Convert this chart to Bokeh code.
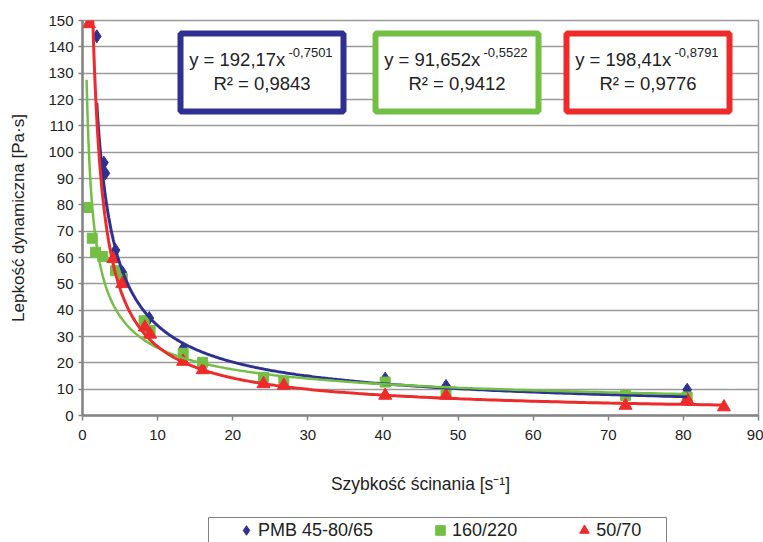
import numpy as np
from bokeh.plotting import figure
from bokeh.layouts import column
from bokeh.models import (Range1d, Label, BoxAnnotation, Legend, LegendItem,
                          FixedTicker)
from bokeh.embed import file_html
from bokeh.resources import INLINE

# ---------------- data ----------------
pmb_x = [1.9, 2.85, 3.05, 4.4, 5.3, 8.9, 13.4, 40.3, 48.4, 80.5]
pmb_y = [144, 96, 92, 62.8, 54.4, 37, 25.5, 14, 11.2, 9.8]

b160_x = [0.55, 1.3, 1.75, 2.7, 4.4, 5.3, 8.2, 9.0, 13.4, 16.0, 24.1, 26.8, 40.3, 48.4, 72.3, 80.5]
b160_y = [79, 67.3, 62, 60.4, 55, 52, 36, 32.3, 23.6, 20.2, 14.5, 12.8, 12.7, 8.9, 7.6, 7.0]

b50_x = [0.85, 4.1, 5.3, 8.3, 9.0, 13.4, 16.0, 24.1, 26.8, 40.3, 48.4, 72.3, 80.5, 85.4]
b50_y = [148.7, 59.5, 50, 33.5, 30.8, 20.5, 17.3, 12, 11.4, 7.6, 7.6, 3.8, 6.0, 3.2]

series_names = ["PMB 45-80/65", "160/220", "50/70"]
# power trend-line coefficients shown in the chart: y = a * x^b
fit_a = [192.17, 91.652, 198.41]
fit_b = [-0.7501, -0.5522, -0.8791]
fit_a_txt = ["192,17", "91,652", "198,41"]
fit_b_txt = ["-0,7501", "-0,5522", "-0,8791"]
fit_r2_txt = ["0,9843", "0,9412", "0,9776"]

x_ticks = [0, 10, 20, 30, 40, 50, 60, 70, 80, 90]
y_ticks = [0, 10, 20, 30, 40, 50, 60, 70, 80, 90, 100, 110, 120, 130, 140, 150]

# ---------------- styling ----------------
BLUE = "#2E3192"
GREEN = "#72BF44"
RED = "#EE2A2A"
GRID = "#9a9a9a"
TXT = "#222222"
FONT = "Liberation Sans"

W = 763
H1, H2 = 510, 32          # main chart / legend strip
FL, FR, FT, FB = 82, 758, 20, 415  # frame edges in pixels

p = figure(width=W, height=H1, x_range=Range1d(0, 90), y_range=Range1d(0, 150),
           output_backend="svg", toolbar_location=None,
           min_border_left=FL, min_border_right=W - FR,
           min_border_top=FT, min_border_bottom=H1 - FB)
p.background_fill_color = "white"
p.border_fill_color = "white"
p.outline_line_color = GRID
p.outline_line_width = 1.5


def dx(px):
    return (px - FL) / (FR - FL) * 90.0


def dy(py):
    return (FB - py) / (FB - FT) * 150.0


# axes
p.xaxis.ticker = FixedTicker(ticks=x_ticks)
p.yaxis.ticker = FixedTicker(ticks=y_ticks)
for ax in (p.xaxis[0], p.yaxis[0]):
    ax.axis_line_color = "#858585"
    ax.axis_line_width = 2.5
    ax.major_tick_line_color = "#858585"
    ax.major_tick_line_width = 1.5
    ax.major_tick_in = 0
    ax.minor_tick_line_color = None
    ax.major_label_text_font = FONT
    ax.major_label_text_font_size = "15px"
    ax.major_label_text_color = TXT
    ax.axis_label_text_font = FONT
    ax.axis_label_text_font_size = "17px"
    ax.axis_label_text_font_style = "normal"
    ax.axis_label_text_color = TXT
p.xaxis.axis_label_text_font_size = "17.5px"
p.xaxis.major_tick_out = 5
p.yaxis.major_tick_out = 4
p.xaxis.major_label_standoff = 9
p.yaxis.major_label_standoff = 5
p.xaxis.axis_label = "Szybkość ścinania [s⁻¹]"
p.yaxis.axis_label = "Lepkość dynamiczna [Pa·s]"
p.xaxis.axis_label_standoff = 31
p.yaxis.axis_label_standoff = 17

p.xgrid.grid_line_color = None
p.ygrid.grid_line_color = GRID
p.ygrid.grid_line_width = 1.5

# markers
r_b = p.scatter(pmb_x, pmb_y, marker="diamond", size=13, color=BLUE)
r_g = p.scatter(b160_x, b160_y, marker="square", size=10, color=GREEN)
r_r = p.scatter(b50_x, b50_y, marker="triangle", size=13, color=RED)

# power trend lines
colors = [BLUE, GREEN, RED]
xs_all = [pmb_x, b160_x, b50_x]
widths = [3, 2.5, 3]
for xs, a, b, c, w in zip(xs_all, fit_a, fit_b, colors, widths):
    xx = np.geomspace(min(xs), max(xs), 400)
    p.line(xx, a * xx ** b, line_color=c, line_width=w)

# equation boxes
box_left = [177, 372, 563]
box_w = 169
box_top, box_bot = 30, 114
for i in range(3):
    L = box_left[i]
    R = L + box_w
    p.add_layout(BoxAnnotation(left=dx(L + 3), right=dx(R - 3), top=dy(box_top + 3),
                               bottom=dy(box_bot - 3), fill_color="white", fill_alpha=1.0,
                               line_color=colors[i], line_alpha=1.0, line_width=6))
for i in range(3):
    L = box_left[i]
    jx = L + 113
    p.add_layout(Label(x=dx(jx), y=dy(58.5), text=f"y  = {fit_a_txt[i]}x",
                       text_align="right", text_baseline="middle", text_font=FONT,
                       text_font_size="18.5px", text_color=TXT))
    p.add_layout(Label(x=dx(jx - 2), y=dy(51.5), text=fit_b_txt[i],
                       text_align="left", text_baseline="middle", text_font=FONT,
                       text_font_size="13px", text_color=TXT))
    p.add_layout(Label(x=dx(L + box_w / 2), y=dy(83), text=f"R² = {fit_r2_txt[i]}",
                       text_align="center", text_baseline="middle", text_font=FONT,
                       text_font_size="18.5px", text_color=TXT))

# ---------------- legend strip below the chart ----------------
# x data units of this strip equal page pixels (its frame is aligned with the chart's)
p2 = figure(width=W, height=H2, x_range=Range1d(FL, FR), y_range=Range1d(0, H2),
            output_backend="svg", toolbar_location=None, min_border=0,
            min_border_left=FL, min_border_right=W - FR,
            x_axis_type=None, y_axis_type=None)
p2.outline_line_color = None
p2.background_fill_color = "white"
p2.border_fill_color = "white"
# legend frame (cut by the page bottom, as in the reference)
p2.quad(left=[208], right=[666], top=[H2 - 7], bottom=[-10],
        fill_color="white", line_color="#7f7f7f", line_width=1)
lb = p2.scatter([-999], [-999], marker="diamond", size=13, color=BLUE)
lg = p2.scatter([-999], [-999], marker="square", size=10, color=GREEN)
lr = p2.scatter([-999], [-999], marker="triangle", size=13, color=RED)
legend = Legend(items=[LegendItem(label=series_names[0], renderers=[lb]),
                       LegendItem(label=series_names[1], renderers=[lg]),
                       LegendItem(label=series_names[2], renderers=[lr])],
                orientation="horizontal", location=(234 - FL, 0),
                margin=0, padding=0, spacing=55, label_standoff=0,
                glyph_width=24, glyph_height=24, label_height=24,
                label_text_font=FONT, label_text_font_size="18px", label_text_color=TXT,
                border_line_color=None, background_fill_alpha=0.0)
p2.add_layout(legend)

layout = column(p, p2, spacing=0)
open("out.html", "w").write(file_html(layout, INLINE))
